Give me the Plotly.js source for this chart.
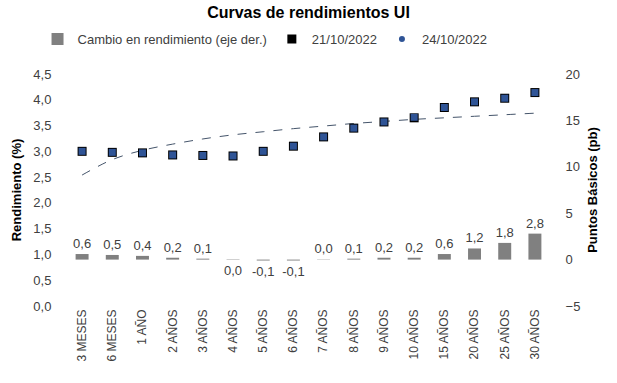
<!DOCTYPE html>
<html><head><meta charset="utf-8">
<script src="https://cdn.plot.ly/plotly-3.0.1.min.js"></script>
<style>html,body{margin:0;padding:0;background:#fff}#chart{width:617px;height:383px}</style>
</head><body><div id="chart"></div>
<script>
var categories = ["3 MESES","6 MESES","1 AÑO","2 AÑOS","3 AÑOS","4 AÑOS","5 AÑOS","6 AÑOS","7 AÑOS","8 AÑOS","9 AÑOS","10 AÑOS","15 AÑOS","20 AÑOS","25 AÑOS","30 AÑOS"];
var cambioPb = [0.6,0.5,0.4,0.2,0.1,-0.04,-0.1,-0.1,0.03,0.1,0.2,0.2,0.6,1.2,1.8,2.8];
var rend2110 = [3.00,2.98,2.97,2.93,2.92,2.91,3.00,3.10,3.28,3.45,3.57,3.65,3.85,3.96,4.03,4.14];
var rend2410 = [3.00,2.98,2.97,2.93,2.92,2.91,3.00,3.10,3.28,3.45,3.57,3.66,3.85,3.96,4.03,4.14];
var tendencia = [2.54,2.84,3.02,3.14,3.24,3.32,3.38,3.44,3.49,3.54,3.58,3.62,3.65,3.68,3.71,3.74];

function lbl(v){ return (Math.round(v*10)/10).toFixed(1).replace('.', ','); }

var font = "Liberation Sans, Arial, sans-serif";
var traces = [
  {type:'bar', x:categories, y:cambioPb, yaxis:'y2', name:'Cambio en rendimiento (eje der.)',
   marker:{color:'#808080'}, width:0.43, text:cambioPb.map(lbl), textposition:'outside',
   constraintext:'none', cliponaxis:false, textfont:{family:font,size:13,color:'#404040'}, hoverinfo:'skip'},
  {type:'scatter', mode:'lines', x:categories, y:tendencia, showlegend:false,
   line:{color:'#44546A', width:1, dash:'dash', shape:'spline'}, hoverinfo:'skip'},
  {type:'scatter', mode:'markers', x:categories, y:rend2110, name:'21/10/2022',
   marker:{symbol:'square', color:'#000000', size:9}},
  {type:'scatter', mode:'markers', x:categories, y:rend2410, name:'24/10/2022', showlegend:false,
   marker:{symbol:'square', color:'#2F5496', size:7}},
  {type:'scatter', mode:'markers', x:[null], y:[null], name:'24/10/2022',
   marker:{symbol:'circle', color:'#2F5496', size:6}}
];
var layout = {
  width:617, height:383, margin:{l:67, r:67, t:74, b:77},
  paper_bgcolor:'#fff', plot_bgcolor:'#fff', separators:',.',
  font:{family:font, color:'#404040'},
  title:{text:'<b>Curvas de rendimientos UI</b>', font:{family:font,size:16,color:'#000'},
         x:0.5, xanchor:'center', y:0.968, yanchor:'middle'},
  showlegend:true,
  legend:{orientation:'h', x:0.41, xanchor:'center', y:1.215, yanchor:'top',
          font:{family:font,size:13,color:'#404040'}, traceorder:'normal'},
  xaxis:{type:'category', range:[-0.5,15.5], tickangle:-90, showgrid:false, showline:false, zeroline:false,
         ticks:'', tickfont:{family:font,size:12,color:'#404040'}},
  yaxis:{range:[0,4.5], dtick:0.5, tickformat:'.1f', showgrid:false, showline:false, zeroline:false,
         ticks:'outside', ticklen:12, tickcolor:'rgba(0,0,0,0)', tickfont:{family:font,size:13,color:'#404040'},
         title:{text:'<b>Rendimiento (%)</b>', font:{family:font,size:13,color:'#000'}, standoff:8}},
  yaxis2:{overlaying:'y', side:'right', range:[-5,20], dtick:5, showgrid:false, showline:false, zeroline:false,
          ticks:'outside', ticklen:12, tickcolor:'rgba(0,0,0,0)', tickfont:{family:font,size:13,color:'#404040'},
          title:{text:'<b>Puntos Básicos (pb)</b>', font:{family:font,size:13,color:'#000'}, standoff:8}}
};
Plotly.newPlot('chart', traces, layout, {displayModeBar:false, staticPlot:true});
</script></body></html>
